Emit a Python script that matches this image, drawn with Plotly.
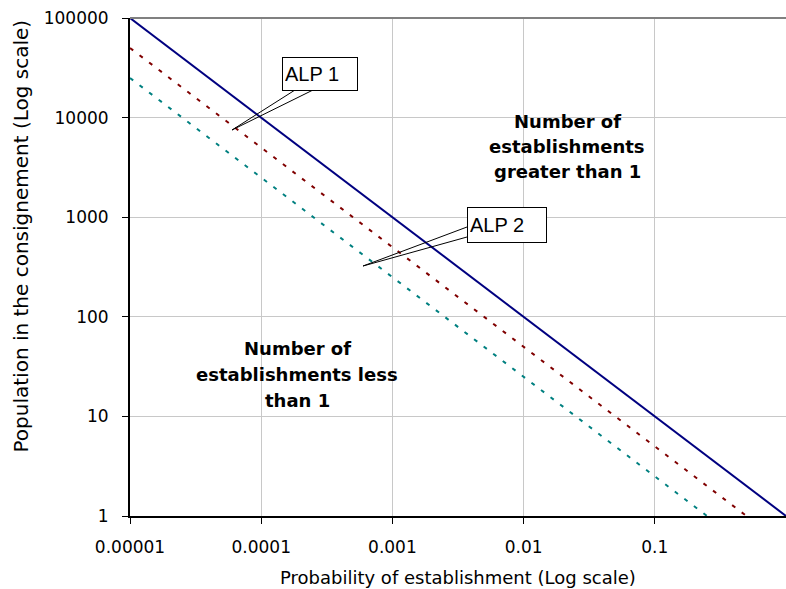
import plotly.graph_objects as go

# ---- data ----
prob_limit = [0.00001, 1]
pop_limit = [100000, 1]
prob_alp1 = [0.00001, 0.5]
pop_alp1 = [50000, 1]
prob_alp2 = [0.00001, 0.25]
pop_alp2 = [25000, 1]

x_tick_vals = [0.00001, 0.0001, 0.001, 0.01, 0.1, 1]
x_tick_text = ["0.00001", "0.0001", "0.001", "0.01", "0.1", "1"]
y_tick_vals = [1, 10, 100, 1000, 10000, 100000]
y_tick_text = ["1", "10", "100", "1000", "10000", "100000"]

W, H = 786, 589
ML, MR, MT, MB = 130, 0, 18, 73
PW, PH = W - ML - MR, H - MT - MB


def px(x):
    return (x - ML) / PW


def py(y):
    return (H - MB - y) / PH


fig = go.Figure()
fig.add_trace(go.Scatter(x=prob_limit, y=pop_limit, mode="lines",
                         line=dict(color="#000080", width=2), showlegend=False))
fig.add_trace(go.Scatter(x=prob_alp1, y=pop_alp1, mode="lines",
                         line=dict(color="#800000", width=2, dash="4px,8px"), showlegend=False))
fig.add_trace(go.Scatter(x=prob_alp2, y=pop_alp2, mode="lines",
                         line=dict(color="#008080", width=2, dash="4px,8px"), showlegend=False))

tick_font = dict(family="DejaVu Sans", size=17, color="black")

fig.update_xaxes(type="log", range=[-5, 0], tickvals=x_tick_vals, ticktext=x_tick_text,
                 showgrid=True, gridcolor="#c8c8c8", gridwidth=1,
                 showline=True, linecolor="black", linewidth=2,
                 ticks="outside", ticklen=6, tickcolor="black", tickwidth=1,
                 tickfont=tick_font, ticklabelstandoff=9, zeroline=False)
fig.update_yaxes(type="log", range=[0, 5], tickvals=y_tick_vals, ticktext=y_tick_text,
                 showgrid=True, gridcolor="#c8c8c8", gridwidth=1,
                 showline=True, linecolor="black", linewidth=2,
                 ticks="outside", ticklen=6, tickcolor="black", tickwidth=1,
                 tickfont=tick_font, ticklabelstandoff=10, zeroline=False)

shapes = [
    dict(type="line", xref="paper", yref="paper", x0=0, x1=1, y0=1, y1=1,
         line=dict(color="#808080", width=2)),
    # callout wedges
    dict(type="path", xref="paper", yref="paper",
         path=f"M {px(295)} {py(90)} L {px(232)} {py(130)} L {px(313)} {py(90)}",
         line=dict(color="black", width=1)),
    dict(type="path", xref="paper", yref="paper",
         path=f"M {px(467)} {py(227)} L {px(363)} {py(266)} L {px(467)} {py(237)}",
         line=dict(color="black", width=1)),
]

annotations = [
    dict(text="ALP 1", xref="paper", yref="paper", x=px(320), y=py(74),
         xanchor="center", yanchor="middle", showarrow=False, align="left",
         width=70, height=28, borderpad=2, bordercolor="black", borderwidth=1,
         bgcolor="white", font=dict(family="Liberation Sans", size=20, color="black")),
    dict(text="ALP 2", xref="paper", yref="paper", x=px(507), y=py(225),
         xanchor="center", yanchor="middle", showarrow=False, align="left",
         width=74, height=30, borderpad=2, bordercolor="black", borderwidth=1,
         bgcolor="white", font=dict(family="Liberation Sans", size=20, color="black")),
    dict(text="Population in the consignement (Log scale)", xref="paper", yref="paper",
         x=px(20), y=py(455), xanchor="center", yanchor="bottom", textangle=-90,
         showarrow=False, font=dict(family="DejaVu Sans", size=20, color="black")),
    dict(text="Probability of establishment (Log scale)", xref="paper", yref="paper",
         x=0.5, y=py(577), xanchor="center", yanchor="middle",
         showarrow=False, font=dict(family="DejaVu Sans", size=18, color="black")),
]

bold = dict(family="DejaVu Sans", size=18, color="black", weight="bold")
greater_lines = ["Number of", "establishments", "greater than 1"]
less_lines = ["Number of", "establishments less", "than 1"]
for i, t in enumerate(greater_lines):
    annotations.append(dict(text=t, xref="paper", yref="paper", x=px(567), y=py(121 + 25 * i),
                            xanchor="center", yanchor="middle", showarrow=False, font=bold))
for i, t in enumerate(less_lines):
    annotations.append(dict(text=t, xref="paper", yref="paper", x=px(297), y=py(348 + 26 * i),
                            xanchor="center", yanchor="middle", showarrow=False, font=bold))

fig.update_layout(width=W, height=H, margin=dict(l=ML, r=MR, t=MT, b=MB),
                  paper_bgcolor="white", plot_bgcolor="white",
                  shapes=shapes, annotations=annotations, showlegend=False)

fig.write_html("out.html")
